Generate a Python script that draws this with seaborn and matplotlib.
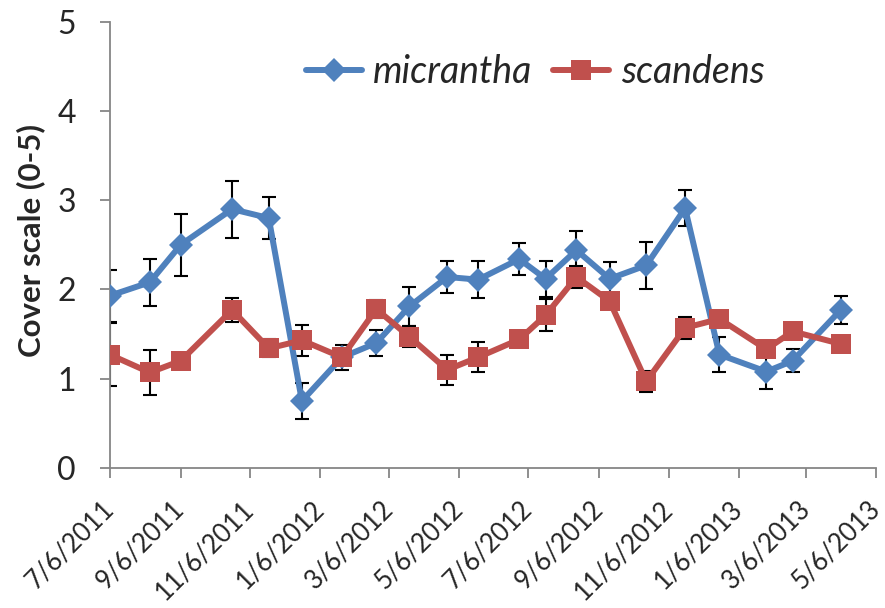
import matplotlib
matplotlib.use("Agg")
import matplotlib.pyplot as plt
import seaborn as sns
import pandas as pd
import numpy as np

dates = ["2011-07-06", "2011-08-10", "2011-09-06", "2011-10-21", "2011-11-22",
         "2011-12-21", "2012-01-25", "2012-02-24", "2012-03-24", "2012-04-26",
         "2012-05-23", "2012-06-28", "2012-07-21", "2012-08-17", "2012-09-15",
         "2012-10-17", "2012-11-20", "2012-12-20", "2013-01-30", "2013-02-22",
         "2013-04-05"]
micrantha = [1.93, 2.08, 2.50, 2.90, 2.80, 0.75, 1.24, 1.40, 1.81, 2.14, 2.11,
             2.34, 2.12, 2.44, 2.12, 2.27, 2.91, 1.27, 1.08, 1.20, 1.77]
micrantha_err = [0.29, 0.26, 0.35, 0.32, 0.24, 0.20, 0.14, 0.15, 0.22, 0.18, 0.21,
                 0.18, 0.20, 0.21, 0.19, 0.26, 0.20, 0.20, 0.19, 0.13, 0.16]
scandens = [1.27, 1.07, 1.20, 1.77, 1.34, 1.43, 1.24, 1.78, 1.47, 1.10, 1.24,
            1.44, 1.71, 2.14, 1.87, 0.97, 1.57, 1.67, 1.33, 1.53, 1.39]
scandens_err = [0.35, 0.25, 0.06, 0.14, 0.10, 0.17, 0.06, 0.10, 0.12, 0.17, 0.17,
                0.05, 0.18, 0.12, 0.05, 0.12, 0.12, 0.05, 0.05, 0.05, 0.0]
tick_dates = ["2011-07-06", "2011-09-06", "2011-11-06", "2012-01-06", "2012-03-06",
              "2012-05-06", "2012-07-06", "2012-09-06", "2012-11-06", "2013-01-06",
              "2013-03-06", "2013-05-06"]
tick_labels = ["7/6/2011", "9/6/2011", "11/6/2011", "1/6/2012", "3/6/2012",
               "5/6/2012", "7/6/2012", "9/6/2012", "11/6/2012", "1/6/2013",
               "3/6/2013", "5/6/2013"]
y_ticks = [0, 1, 2, 3, 4, 5]

sns.set_theme(style="white")
plt.rcParams['font.family'] = ['Lato', 'DejaVu Sans']

d = pd.to_datetime(dates)
df = pd.concat([
    pd.DataFrame({"date": d, "value": micrantha, "err": micrantha_err, "species": "micrantha"}),
    pd.DataFrame({"date": d, "value": scandens, "err": scandens_err, "species": "scandens"}),
])

blue = "#4F81BD"
red = "#C0504D"
palette = {"micrantha": blue, "scandens": red}
msize = {"micrantha": 12.5, "scandens": 15}

fig = plt.figure(figsize=(8.85, 6.08), dpi=100)
ax = fig.add_axes([0.124, 0.2303, 0.866, 0.734])

for sp, g in df.groupby("species"):
    ax.errorbar(g["date"], g["value"], yerr=g["err"], fmt="none", ecolor="black",
                elinewidth=1.5, capsize=4.7, capthick=1.5, zorder=1)

n_before = len(ax.lines)
sns.lineplot(data=df, x="date", y="value", hue="species", style="species",
             palette=palette, markers={"micrantha": "D", "scandens": "s"},
             dashes=False, linewidth=4.3, markersize=13, markeredgewidth=0,
             ax=ax)
for ln in ax.lines[n_before:]:
    ln.set_zorder(3)
    c = matplotlib.colors.to_hex(ln.get_color()).upper()
    if c == blue.upper():
        ln.set_markersize(msize["micrantha"])
    elif c == red.upper():
        ln.set_markersize(msize["scandens"])

ax.set_xlim(pd.Timestamp(tick_dates[0]), pd.Timestamp(tick_dates[-1]))
ax.set_ylim(0, 5)
ax.set_xticks(pd.to_datetime(tick_dates))
ax.set_xticklabels(tick_labels, rotation=45, ha="right", va="center",
                   rotation_mode="anchor", fontsize=18.5)
ax.set_yticks(y_ticks)
ax.set_yticklabels([str(v) for v in y_ticks], fontsize=23)
ax.tick_params(axis="both", direction="out", length=7.5, width=1.3, color="#868686",
               left=True, bottom=True)
ax.tick_params(axis="x", pad=19)
ax.tick_params(axis="y", pad=17)
for s in ["top", "right"]:
    ax.spines[s].set_visible(False)
for s in ["left", "bottom"]:
    ax.spines[s].set_color("#868686")
    ax.spines[s].set_linewidth(1.3)
ax.set_xlabel("")
ax.set_ylabel("Cover scale (0-5)", fontsize=22.5, fontweight="bold")
ax.yaxis.set_label_coords(-0.0844, 0.51)

handles, labels = ax.get_legend_handles_labels()
leg = ax.legend(handles, labels, loc="center", bbox_to_anchor=(0.555, 0.887), ncol=2,
                frameon=False, prop={"style": "italic", "size": 27}, handlelength=1.5,
                columnspacing=0.55, handletextpad=0.3)
for h in leg.legend_handles:
    c = matplotlib.colors.to_hex(h.get_color()).upper()
    h.set_linewidth(4.3)
    h.set_markersize(msize["micrantha"] if c == blue.upper() else msize["scandens"])

fig.savefig("out.png", dpi=100)
